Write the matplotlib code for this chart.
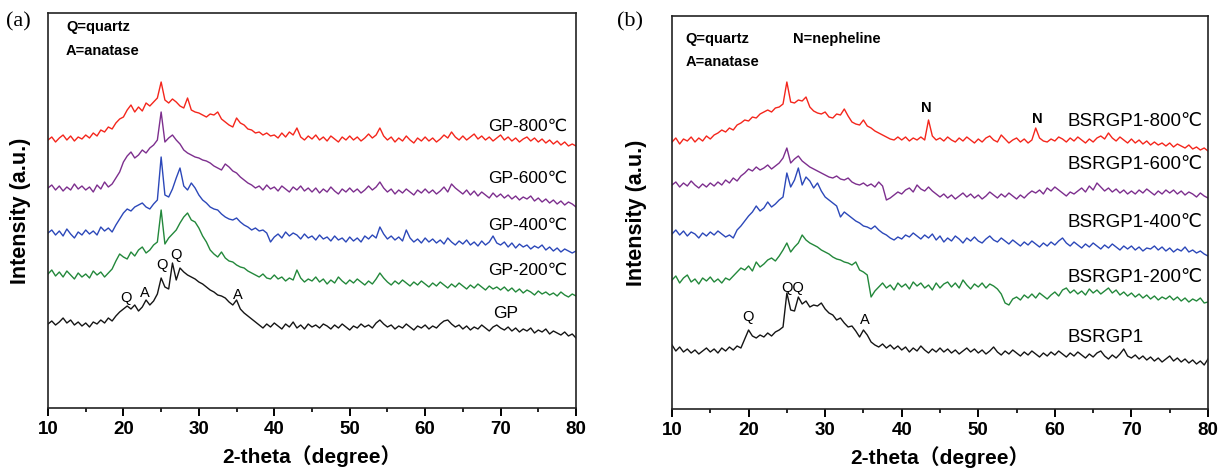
import numpy as np
import matplotlib
matplotlib.use('Agg')
import matplotlib.pyplot as plt
from matplotlib.ticker import MultipleLocator

# 2-theta sampling, 0.5 degree steps from 10 to 80
two_theta = np.linspace(10, 80, 141)

# ---- panel (a) traces (arbitrary intensity, already offset) ----
gp = [84, 87, 83, 86, 90, 85, 88, 83, 86, 82,
      85, 81, 86, 84, 88, 85, 90, 87, 92, 96,
      99, 102, 99, 103, 97, 101, 108, 103, 107, 114,
      130, 121, 119, 145, 128, 140, 136, 133, 131, 129,
      126, 124, 121, 118, 116, 113, 112, 110, 106, 103,
      108, 99, 95, 92, 89, 86, 83, 80, 84, 81,
      85, 82, 79, 84, 81, 86, 80, 83, 79, 84,
      81, 83, 80, 84, 82, 79, 83, 80, 84, 81,
      78, 82, 80, 84, 81, 83, 80, 85, 88, 84,
      81, 83, 79, 82, 80, 84, 81, 78, 82, 80,
      83, 79, 82, 80, 84, 87, 88, 84, 81, 83,
      79, 82, 78, 81, 79, 83, 80, 77, 81, 83,
      80, 78, 81, 77, 80, 76, 79, 77, 80, 75,
      78, 76, 79, 74, 77, 75, 73, 76, 72, 74,
      70]
gp_200 = [134, 138, 132, 136, 131, 137, 133, 129, 135, 131,
          134, 130, 137, 133, 136, 131, 135, 139, 147, 154,
          151, 149, 156, 152, 158, 161, 155, 158, 163, 166,
          198, 164, 170, 174, 178, 185, 191, 195, 188, 186,
          180, 172, 166, 158, 154, 151, 156, 150, 147, 146,
          143, 141, 140, 137, 135, 133, 131, 134, 130, 129,
          133, 129, 131, 127, 130, 128, 138, 130, 126, 129,
          127, 131, 126, 129, 124, 128, 125, 131, 127, 124,
          128, 125, 129, 126, 123, 127, 124, 129, 135, 130,
          126, 123, 127, 124, 128, 125, 122, 126, 123, 127,
          124, 121, 125, 122, 126, 123, 120, 124, 121, 125,
          122, 119, 123, 120, 124, 121, 118, 122, 119, 121,
          118, 121, 117, 120, 116, 119, 115, 118, 116, 113,
          117, 114, 116, 113, 115, 112, 116, 113, 111, 114,
          112]
gp_400 = [175, 178, 173, 177, 172, 179, 174, 170, 176, 173,
          178, 174, 177, 173, 181, 177, 180, 176, 183, 189,
          195, 199, 197, 201, 203, 205, 201, 199, 204, 208,
          251, 213, 211, 219, 230, 240, 222, 218, 225, 220,
          213, 208, 205, 201, 199, 198, 194, 191, 189, 188,
          190, 186, 183, 181, 178, 180, 177, 178, 175, 166,
          171, 174, 170, 176, 172, 175, 173, 169, 174, 170,
          172, 168, 173, 169, 171, 167, 172, 168, 170, 166,
          171, 167, 170, 166, 172, 169, 173, 170, 181, 174,
          169, 172, 168, 171, 167, 178, 170, 166, 169, 165,
          170, 166, 169, 165, 168, 164, 170, 166, 163, 167,
          164, 168, 163, 166, 162, 167, 163, 166, 172, 165,
          163, 166, 161, 165, 160, 164, 161, 163, 159, 162,
          160, 163, 158, 161, 157, 160, 156, 159, 157, 155,
          157]
gp_600 = [220, 223, 218, 222, 217, 221, 218, 224, 219, 222,
          218, 221, 216, 223, 219, 226, 221, 224, 230, 236,
          246, 252, 256, 250, 253, 258, 255, 260, 263, 268,
          296, 266, 270, 273, 268, 264, 258, 255, 253, 251,
          250, 248, 247, 245, 242, 240, 238, 244, 241, 237,
          235, 231, 228, 225, 223, 220, 222, 218, 223, 219,
          221, 217, 222, 219, 216, 221, 218, 222, 217, 220,
          216, 220, 215, 219, 216, 221, 217, 214, 219, 216,
          220, 216, 219, 215, 218, 222, 218, 221, 226, 220,
          216, 219, 214, 218, 215, 219, 216, 213, 218, 215,
          219, 215, 218, 214, 217, 221, 216, 224, 220, 217,
          214, 218, 213, 217, 212, 216, 213, 210, 215, 211,
          214, 210, 213, 209, 212, 208, 211, 209, 212, 207,
          210, 206, 209, 205, 208, 204, 207, 203, 206, 204,
          201]
gp_800 = [268, 271, 266, 270, 273, 268, 272, 267, 271, 269,
          273, 270, 275, 272, 278, 276, 281, 279, 285, 289,
          291, 298, 303, 296, 301, 297, 305, 302, 306, 310,
          326, 308, 305, 309, 306, 302, 300, 310, 298, 296,
          295, 293, 291, 294, 293, 296, 289, 286, 283, 281,
          290, 285, 283, 279, 278, 275, 276, 273, 275, 272,
          273, 270, 275, 271, 276, 273, 280, 271, 268, 272,
          269, 273, 268, 271, 267, 272, 269, 266, 271, 268,
          272, 268, 271, 267, 270, 274, 270, 273, 280, 272,
          268, 271, 266, 270, 267, 272, 268, 265, 270, 267,
          271, 267, 270, 266, 269, 273, 270, 276, 271, 268,
          272, 268, 271, 274, 269, 272, 268, 271, 267, 270,
          273, 268, 271, 267, 270, 266, 269, 271, 267, 270,
          266, 269, 265, 268, 264, 267, 263, 266, 262, 264,
          262]

# ---- panel (b) traces ----
bsrgp1 = [64, 58, 62, 57, 60, 56, 59, 55, 58, 61,
          57, 60, 56, 61, 58, 62, 59, 63, 61, 70,
          79, 73, 71, 74, 72, 76, 73, 77, 79, 82,
          116, 99, 98, 112, 105, 108, 102, 104, 103, 106,
          100, 96, 94, 89, 91, 86, 82, 83, 78, 72,
          79, 74, 67, 64, 62, 65, 61, 64, 60, 63,
          59, 62, 57, 61, 58, 63, 59, 56, 60, 57,
          61, 57, 60, 56, 59, 55, 58, 61, 57, 60,
          56, 59, 55, 58, 62, 57, 54, 58, 55, 59,
          56, 53, 57, 54, 58, 55, 52, 56, 53, 57,
          54, 58, 55, 52, 56, 53, 57, 54, 51, 55,
          52, 56, 58, 53, 50, 54, 51, 55, 60, 53,
          51, 54, 50, 53, 49, 52, 48, 51, 47, 50,
          53, 48, 51, 47, 50, 46, 49, 45, 48, 44,
          50]
bsrgp1_200 = [129, 133, 126, 131, 134, 127, 130, 125, 131, 128,
              132, 127, 130, 126, 131, 129, 133, 137, 141, 139,
              143, 138, 147, 142, 145, 149, 151, 148, 153, 159,
              166, 157, 162, 166, 174, 169, 166, 164, 162, 159,
              157, 155, 152, 150, 149, 147, 146, 144, 147, 139,
              137, 134, 112, 118, 122, 126, 121, 124, 119, 126,
              122, 125, 120, 127, 123, 126, 121, 124, 119, 126,
              121, 125, 127, 122, 126, 121, 129, 124, 120, 125,
              122, 126, 121, 125, 123, 120, 115, 106, 104, 110,
              112, 109, 114, 111, 115, 111, 116, 113, 110, 114,
              117, 113, 119, 121, 116, 119, 115, 118, 114, 120,
              116, 119, 115, 118, 121, 116, 119, 114, 117, 113,
              116, 112, 115, 111, 114, 110, 113, 109, 112, 110,
              113, 109, 112, 108, 111, 107, 110, 108, 111, 106,
              107]
bsrgp1_400 = [175, 179, 174, 178, 173, 177, 175, 171, 176, 173,
              177, 174, 178, 175, 172, 174, 171, 179, 183, 188,
              193, 197, 203, 198, 201, 207, 202, 205, 209, 212,
              236, 222, 229, 241, 224, 232, 228, 221, 226, 218,
              212, 209, 206, 203, 192, 197, 194, 191, 188, 186,
              183, 182, 180, 183, 179, 176, 174, 171, 169, 172,
              170, 174, 172, 176, 173, 170, 174, 171, 175, 169,
              173, 167, 171, 168, 173, 170, 166, 171, 168, 172,
              168, 166, 170, 173, 169, 167, 171, 168, 165, 169,
              166, 163, 167, 164, 168, 165, 162, 166, 163, 167,
              164, 168, 171, 166, 163, 167, 164, 161, 165, 162,
              166, 163, 160, 164, 161, 165, 162, 159, 163, 160,
              163, 159, 162, 158, 161, 160, 163, 159, 162, 158,
              161, 157, 160, 158, 162, 157, 159, 156, 158, 155,
              153]
bsrgp1_600 = [224, 227, 222, 226, 223, 228, 224, 221, 225, 222,
              226, 223, 227, 224, 229, 226, 231, 228, 233, 236,
              240, 238, 242, 239, 241, 244, 240, 243, 246, 251,
              261, 246, 250, 253, 248, 245, 242, 240, 238, 236,
              234, 232, 231, 233, 230, 229, 231, 227, 225, 224,
              226, 223, 225, 222, 227, 223, 209, 211, 214, 217,
              215, 219, 221, 217, 224, 220, 218, 222, 218, 215,
              212, 215, 211, 214, 210, 213, 216, 212, 215, 211,
              214, 210, 213, 217, 214, 211, 215, 212, 216, 213,
              210, 214, 211, 215, 218, 216, 219, 215, 221, 218,
              222, 219, 216, 213, 217, 215, 218, 221, 217, 223,
              219, 226, 222, 218, 221, 217, 220, 216, 219, 215,
              218, 215, 219, 216, 220, 217, 214, 218, 215, 219,
              216, 219, 215, 218, 214, 217, 215, 212, 216, 213,
              211]
bsrgp1_800 = [267, 271, 265, 270, 268, 272, 267, 271, 268, 273,
              270, 274, 276, 279, 277, 281, 279, 284, 286, 289,
              288, 292, 291, 295, 297, 299, 297, 301, 302, 305,
              327, 307, 306, 309, 308, 312, 302, 298, 296, 295,
              297, 292, 291, 295, 294, 300, 293, 287, 285, 284,
              289, 283, 281, 278, 276, 274, 272, 270, 269, 272,
              269, 272, 268, 271, 269, 272, 269, 289, 273, 269,
              271, 268, 272, 269, 267, 271, 268, 272, 269, 266,
              270, 267, 271, 273, 269, 267, 274, 270, 266, 269,
              271, 267, 270, 266, 269, 281, 271, 268, 267, 270,
              268, 272, 270, 267, 271, 268, 272, 269, 266, 270,
              267, 271, 273, 270, 276, 271, 268, 272, 269, 266,
              270, 266, 269, 265, 268, 264, 267, 264, 266, 263,
              266, 262, 265, 263, 261, 264, 260, 262, 259, 261,
              258]

labels_a = ['GP', 'GP-200℃', 'GP-400℃', 'GP-600℃', 'GP-800℃']
labels_b = ['BSRGP1', 'BSRGP1-200℃', 'BSRGP1-400℃', 'BSRGP1-600℃', 'BSRGP1-800℃']
colors = ['#151515', '#23883b', '#2c48b9', '#7d2f8e', '#f4261c']

# label heights next to each trace
label_y_a = [95, 138, 183, 230, 282]
label_y_b = [72, 131, 186, 244, 287]

# phase marks: (letter, 2-theta, height)
marks_a = [('Q', 20.3, 110), ('A', 22.9, 115), ('Q', 25.1, 143), ('Q', 27.0, 153), ('A', 35.2, 113)]
marks_b = [('Q', 19.9, 92), ('QQ', 25.8, 121), ('A', 35.2, 89)]
marks_n = [('N', 43.2, 301), ('N', 57.7, 290)]

sans = ['Liberation Sans', 'DejaVu Sans']
cjk = ['Liberation Sans', 'Noto Sans CJK SC']

fig = plt.figure(figsize=(12.2, 4.7), dpi=100)
ax_a = fig.add_axes([48/1220, 1-408/470, 528/1220, 395/470])
ax_b = fig.add_axes([672/1220, 1-409/470, 536/1220, 393/470])


def style(ax, ytop):
    ax.set_xlim(10, 80)
    ax.set_ylim(0, ytop)
    ax.xaxis.set_major_locator(MultipleLocator(10))
    ax.xaxis.set_minor_locator(MultipleLocator(5))
    ax.tick_params(axis='x', which='major', direction='out', length=5.5, width=1.4, pad=4)
    ax.tick_params(axis='x', which='minor', direction='out', length=3, width=1.2)
    ax.set_yticks([])
    for sp in ax.spines.values():
        sp.set_linewidth(1.2)
        sp.set_color('#222222')
    for t in ax.get_xticklabels():
        t.set_fontfamily(sans)
        t.set_fontweight('bold')
        t.set_fontsize(13.5)
    ax.set_xlabel('2-theta（degree）', family=cjk, fontweight='bold', fontsize=15, labelpad=5)
    ax.set_ylabel('Intensity (a.u.)', family=sans, fontweight='bold', fontsize=15.5)


traces_a = [gp, gp_200, gp_400, gp_600, gp_800]
traces_b = [bsrgp1, bsrgp1_200, bsrgp1_400, bsrgp1_600, bsrgp1_800]

for ys, c in zip(traces_a, colors):
    ax_a.plot(two_theta, ys, color=c, lw=1.0)
for ys, c in zip(traces_b, colors):
    ax_b.plot(two_theta, ys, color=c, lw=1.0)

style(ax_a, 395)
style(ax_b, 393)
ax_a.yaxis.set_label_coords(-0.033, 0.5)
ax_b.yaxis.set_label_coords(-0.047, 0.5)

# trace labels
for i, (lab, y) in enumerate(zip(labels_a, label_y_a)):
    if i == 0:
        ax_a.text(69.0, y, lab, ha='left', va='center', family=sans, fontsize=12.5)
    else:
        ax_a.text(78.9, y, lab, ha='right', va='center', family=sans, fontsize=12.5)
for lab, y in zip(labels_b, label_y_b):
    ax_b.text(61.7, y, lab, ha='left', va='center', family=sans, fontsize=13.5)

for s, x, y in marks_a:
    ax_a.text(x, y, s, ha='center', va='center', family=sans, fontsize=10.5)
for s, x, y in marks_b:
    ax_b.text(x, y, s, ha='center', va='center', family=sans, fontsize=10.5)
for s, x, y in marks_n:
    ax_b.text(x, y, s, ha='center', va='center', family=sans, fontsize=10.5, fontweight='bold')

# phase key
ax_a.text(12.4, 381, 'Q=quartz', ha='left', va='center', family=sans, fontsize=10.5, fontweight='bold')
ax_a.text(12.4, 357, 'A=anatase', ha='left', va='center', family=sans, fontsize=10.5, fontweight='bold')
ax_b.text(11.8, 370, 'Q=quartz', ha='left', va='center', family=sans, fontsize=10.5, fontweight='bold')
ax_b.text(25.8, 370, 'N=nepheline', ha='left', va='center', family=sans, fontsize=10.5, fontweight='bold')
ax_b.text(11.8, 347, 'A=anatase', ha='left', va='center', family=sans, fontsize=10.5, fontweight='bold')

fig.text(18/1220, 1-22/470, '(a)', ha='center', va='center', family='Liberation Serif', fontsize=16)
fig.text(630/1220, 1-22/470, '(b)', ha='center', va='center', family='Liberation Serif', fontsize=16)

fig.savefig('out.png', dpi=100)
